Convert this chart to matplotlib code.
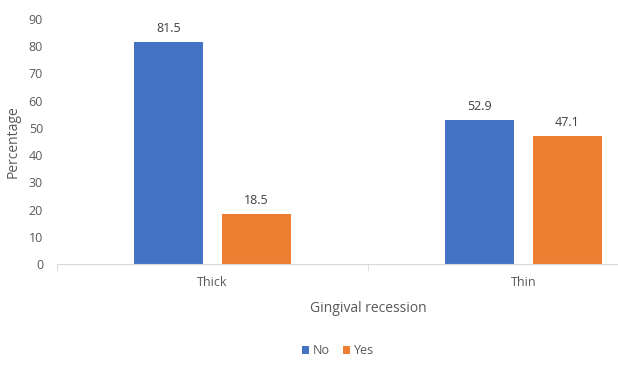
import numpy as np
import matplotlib.pyplot as plt

categories = ['Thick', 'Thin']
no_values = [81.5, 52.9]
yes_values = [18.5, 47.1]

plt.rcParams['font.family'] = ['Open Sans', 'DejaVu Sans']
gray = '#595959'

fig = plt.figure(figsize=(6.18, 3.69), dpi=100)
ax = fig.add_axes([57 / 618, 105 / 369, 622 / 618, 245 / 369])

x = np.arange(len(categories))
w = 0.225
off = 0.1415
b1 = ax.bar(x - off, no_values, w, color='#4472C4', label='No')
b2 = ax.bar(x + off, yes_values, w, color='#ED7D31', label='Yes')

for bars, vals in [(b1, no_values), (b2, yes_values)]:
    for b, v in zip(bars, vals):
        ax.text(b.get_x() + b.get_width() / 2, v + 2.5, f'{v:.1f}',
                ha='center', va='bottom', fontsize=9, color='#404040')

ax.set_xlim(-0.5, 1.5)
ax.set_ylim(0, 90)
ax.set_yticks(range(0, 91, 10))
ax.tick_params(axis='y', length=0, labelsize=9, colors=gray, pad=10)

ax.set_xticks([-0.5, 0.5, 1.5], minor=True)
ax.set_xticks(x)
ax.set_xticklabels(categories)
ax.tick_params(axis='x', which='major', length=0, labelsize=9, colors=gray, pad=9)
ax.tick_params(axis='x', which='minor', length=5, color='#D9D9D9', direction='out')

for s in ['top', 'right', 'left']:
    ax.spines[s].set_visible(False)
ax.spines['bottom'].set_color('#D9D9D9')

ax.set_ylabel('Percentage', fontsize=10, color=gray, labelpad=6)
fig.text(368 / 618, 1 - 308 / 369, 'Gingival recession', ha='center', va='center',
         fontsize=10, color=gray)

fig.legend(handles=[b1, b2], loc='center', bbox_to_anchor=(338 / 618, 1 - 351 / 369),
           ncol=2, frameon=False, fontsize=9, handlelength=0.6, handleheight=0.6,
           handletextpad=0.3, columnspacing=1.0, labelcolor=gray)

fig.savefig('out.png', dpi=100)
